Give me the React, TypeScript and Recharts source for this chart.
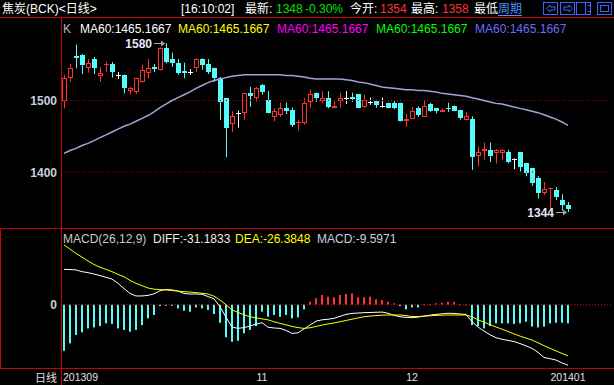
import React from 'react';
import { ComposedChart, Bar, Line, XAxis, YAxis, ReferenceLine, ReferenceDot } from 'recharts';

// ---- data ----
const opens = [
  1500, 1531, 1562, 1564, 1545, 1558, 1534, 1549, 1551, 1536,
  1536, 1514, 1512, 1526, 1539, 1547, 1543, 1573, 1558, 1553,
  1541, 1540, 1546, 1558, 1551, 1546, 1532, 1503, 1467, 1483,
  1482, 1510, 1503, 1522, 1501, 1477, 1480, 1490, 1487, 1468,
  1468, 1498, 1511, 1500, 1503, 1489, 1500, 1504, 1505, 1509,
  1491, 1498, 1499, 1492, 1497, 1497, 1497, 1472, 1474, 1489,
  1477, 1495, 1489, 1484, 1490, 1492, 1487, 1473, 1474, 1423,
  1430, 1431, 1427, 1427, 1428, 1418, 1428, 1413, 1405, 1392,
  1371, 1377, 1375, 1361, 1354,
];
const highs = [
  1536, 1551, 1578, 1565, 1558, 1561, 1547, 1554, 1554, 1540,
  1536, 1519, 1532, 1550, 1558, 1551, 1574, 1580, 1567, 1558,
  1553, 1544, 1559, 1559, 1558, 1546, 1533, 1503, 1485, 1486,
  1511, 1519, 1519, 1523, 1513, 1489, 1497, 1497, 1490, 1473,
  1503, 1515, 1511, 1513, 1513, 1499, 1511, 1513, 1511, 1509,
  1508, 1504, 1501, 1504, 1497, 1500, 1497, 1481, 1491, 1492,
  1501, 1497, 1489, 1489, 1497, 1493, 1487, 1484, 1478, 1436,
  1441, 1441, 1432, 1432, 1431, 1419, 1428, 1413, 1405, 1394,
  1386, 1378, 1379, 1369, 1358,
];
const lows = [
  1489, 1526, 1545, 1537, 1539, 1537, 1526, 1540, 1532, 1530,
  1510, 1508, 1509, 1525, 1531, 1540, 1542, 1552, 1547, 1536,
  1531, 1536, 1540, 1543, 1537, 1526, 1473, 1421, 1456, 1462,
  1473, 1491, 1498, 1508, 1482, 1471, 1477, 1481, 1463, 1458,
  1466, 1489, 1498, 1496, 1489, 1489, 1490, 1495, 1498, 1490,
  1490, 1494, 1490, 1490, 1489, 1488, 1471, 1463, 1474, 1477,
  1477, 1484, 1482, 1484, 1484, 1485, 1473, 1472, 1403, 1408,
  1417, 1414, 1412, 1417, 1412, 1404, 1400, 1394, 1381, 1363,
  1368, 1349, 1361, 1346, 1344,
];
const closes = [
  1531, 1546, 1559, 1549, 1553, 1545, 1539, 1551, 1540, 1536,
  1517, 1517, 1531, 1543, 1546, 1544, 1573, 1554, 1552, 1539,
  1539, 1540, 1558, 1549, 1540, 1531, 1498, 1462, 1478, 1483,
  1510, 1507, 1518, 1512, 1482, 1485, 1490, 1486, 1466, 1470,
  1496, 1509, 1503, 1504, 1491, 1492, 1503, 1504, 1502, 1490,
  1501, 1498, 1494, 1492, 1490, 1490, 1471, 1474, 1485, 1480,
  1492, 1485, 1486, 1487, 1488, 1486, 1476, 1478, 1421, 1428,
  1432, 1423, 1431, 1431, 1414, 1418, 1407, 1399, 1385, 1371,
  1376, 1378, 1365, 1354, 1348,
];
const ma60 = [
  1426, 1430, 1433, 1437, 1440, 1444, 1448, 1452, 1456, 1460,
  1464, 1467, 1471, 1475, 1479, 1484, 1490, 1495, 1500, 1504,
  1508, 1512, 1517, 1521, 1525, 1528, 1530, 1532, 1534, 1535,
  1536, 1536, 1536, 1536, 1536, 1536, 1536, 1535, 1535, 1534,
  1533, 1531, 1530, 1530, 1530, 1530, 1530, 1529, 1528, 1526,
  1525, 1523, 1521, 1519, 1518, 1517, 1516, 1515, 1515, 1514,
  1514, 1513, 1512, 1510, 1509, 1508, 1507, 1506, 1504, 1502,
  1500, 1498, 1496, 1495, 1493, 1491, 1489, 1487, 1485, 1483,
  1480, 1477, 1474, 1470, 1465.1667,
];
const diffs = [
  18.2, 18.1, 17.9, 17.0, 16.5, 15.8, 15.0, 14.1, 13.2, 11.0,
  8.3, 5.8, 4.5, 4.5, 4.8, 5.6, 7.2, 7.9, 7.6, 7.0,
  5.8, 5.5, 5.5, 5.4, 4.2, 3.0, -1.0, -6.5, -11.5, -12.2,
  -11.8, -11.0, -10.0, -9.3, -11.6, -12.0, -12.2, -13.2, -14.8, -14.5,
  -12.5, -10.5, -8.5, -7.8, -7.5, -7.0, -6.0, -5.0, -4.5, -4.3,
  -4.1, -4.0, -3.9, -3.8, -4.4, -5.5, -6.2, -6.5, -6.7, -6.4,
  -5.9, -5.4, -5.0, -4.7, -4.4, -4.5, -4.8, -5.0, -8.8, -11.5,
  -13.6, -15.5, -17.0, -17.8, -18.4, -19.0, -20.0, -21.2, -22.5, -24.5,
  -27.2, -27.8, -28.5, -30.0, -31.1833,
];
const deas = [
  30.8, 28.6, 26.4, 24.5, 22.5, 20.7, 19.3, 18.2, 17.0, 15.6,
  14.4, 12.5, 11.0, 9.8, 8.6, 8.0, 7.8, 7.6, 7.3, 7.0,
  6.7, 6.5, 6.2, 5.9, 5.5, 4.4, 2.4, 0.0, -2.7, -4.0,
  -5.2, -6.2, -6.8, -7.3, -7.8, -8.8, -9.6, -10.4, -11.2, -11.8,
  -12.2, -11.9, -11.2, -10.5, -9.9, -9.4, -8.8, -8.1, -7.5, -6.8,
  -6.2, -5.9, -5.6, -5.4, -5.3, -5.3, -5.3, -5.6, -6.1, -6.1,
  -5.9, -5.7, -5.5, -5.4, -5.3, -5.3, -5.3, -5.3, -6.2, -7.8,
  -9.0, -10.3, -11.5, -12.6, -13.8, -15.0, -16.2, -17.2, -18.2, -19.6,
  -21.1, -22.5, -23.8, -25.1, -26.3848,
];
const macdBars = [
  -23.7, -19.9, -15.6, -14.2, -12.2, -11.7, -11.0, -9.6, -9.9, -12.2,
  -13.0, -13.9, -13.0, -10.5, -7.0, -5.3, -0.7, -0.4, -0.2, -1.9,
  -3.1, -3.6, -1.4, -1.9, -2.7, -4.8, -9.3, -16.8, -19.1, -18.6,
  -14.7, -13.0, -11.0, -3.6, -6.2, -5.3, -6.2, -5.3, -7.0, -6.5,
  -2.4, 1.5, 3.3, 5.0, 4.1, 3.8, 5.0, 5.5, 5.9, 3.8,
  3.8, 4.1, 2.8, 2.4, 1.5, 0.7, -0.7, -2.4, -1.4, -1.4,
  0.2, 0.3, 0.7, 1.0, 1.5, 1.5, 0.2, 0.1, -10.5, -11.0,
  -12.2, -11.0, -9.6, -9.6, -9.6, -9.9, -9.6, -8.8, -11.3, -11.7,
  -11.3, -9.6, -9.3, -9.3, -9.5971,
];
const xTickIndex = [0, 33, 58, 84];
const xTickLabels = ['201309', '11', '12', '201401'];
const priceTicks = [1400, 1500];
const macdTicks = [0];
const maLegendColors = ['#ffffff', '#ffff00', '#ff00ff', '#00ff00', '#6a6aff'];
const maLegendText = 'MA60:1465.1667';

// ---- layout / style ----
const EMPTY_SLOTS = 7;
const PRICE_DOMAIN: [number, number] = [1321.7, 1615.4];
const MACD_DOMAIN: [number, number] = [-32.6, 38.98];
const UP = '#ff3232';
const DOWN = '#54fcfc';
const BORDER = '#c80000';
const LAT = "'Liberation Sans', Arial, sans-serif";
const MIX = "'Liberation Sans', 'Noto Sans CJK SC', sans-serif";

const rows = Array.from({ length: opens.length + EMPTY_SLOTS }, (_, i) => {
  if (i >= opens.length) return { idx: i } as any;
  return {
    idx: i,
    open: opens[i],
    high: highs[i],
    low: lows[i],
    close: closes[i],
    range: [lows[i], highs[i]],
    ma: ma60[i],
    diff: diffs[i],
    dea: deas[i],
    macd: macdBars[i],
  };
});

const last = opens.length - 1;
const hiIdx = highs.indexOf(Math.max(...highs));
const loIdx = lows.lastIndexOf(Math.min(...lows));

function Candle(props: any) {
  const { x, y, width, height, index } = props;
  const d = props.payload && props.payload.open != null ? props.payload : rows[index];
  if (!d || d.open == null) return null;
  const { open, close, high, low } = d;
  const top = Math.min(y, y + height);
  const h = Math.abs(height);
  const span = high - low || 1;
  const toY = (v: number) => top + ((high - v) / span) * h;
  const cx = Math.round(x + width / 2);
  const wx = cx + 0.5;
  const yH = toY(high);
  const yL = toY(low);
  if (open === close) {
    const yy = Math.round(toY(open)) + 0.5;
    return (
      <g>
        <line x1={wx} x2={wx} y1={yH} y2={yL} stroke="#ffffff" strokeWidth={1} />
        <line x1={cx - 2} x2={cx + 3} y1={yy} y2={yy} stroke="#ffffff" strokeWidth={1} />
      </g>
    );
  }
  if (close > open) {
    const bt = Math.round(toY(close));
    const bb = Math.round(toY(open));
    const bh = bb - bt - 1;
    return (
      <g>
        <line x1={wx} x2={wx} y1={yH} y2={bt} stroke={UP} strokeWidth={1} />
        <line x1={wx} x2={wx} y1={bb} y2={yL} stroke={UP} strokeWidth={1} />
        {bh > 0 ? (
          <rect x={cx - 1.5} y={bt + 0.5} width={4} height={bh} fill="none" stroke={UP} strokeWidth={1} />
        ) : (
          <line x1={cx - 2} x2={cx + 3} y1={bt + 0.5} y2={bt + 0.5} stroke={UP} strokeWidth={1} />
        )}
      </g>
    );
  }
  const bt = Math.round(toY(open));
  const bb = Math.round(toY(close));
  return (
    <g>
      <line x1={wx} x2={wx} y1={yH} y2={yL} stroke={DOWN} strokeWidth={1} />
      <rect x={cx - 2} y={bt} width={5} height={Math.max(1, bb - bt)} fill={DOWN} />
    </g>
  );
}

function MacdBar(props: any) {
  const { x, y, width, height, index } = props;
  const d = rows[index];
  if (!d || d.macd == null) return null;
  const cx = Math.round(x + width / 2);
  const top = Math.min(y, y + height);
  const h = Math.max(Math.abs(height), 1);
  return <rect x={cx - 1} y={top} width={2} height={h} fill={d.macd >= 0 ? UP : DOWN} />;
}

function ExtremeMark(props: any, label: string) {
  const { cx, cy } = props;
  if (cx == null || cy == null) return <g />;
  const ay = Math.round(cy) + 0.5;
  return (
    <g>
      <line x1={cx - 12} x2={cx - 2} y1={ay} y2={ay} stroke="#a8a8a8" strokeWidth={1} />
      <path d={`M${cx - 1} ${ay} L${cx - 5} ${ay - 3} L${cx - 5} ${ay + 3} Z`} fill="#a8a8a8" />
      <text x={cx - 14} y={ay + 4.5} textAnchor="end" fill="#e4e6f2" fontFamily={LAT} fontWeight="bold" fontSize={12}>
        {label}
      </text>
    </g>
  );
}

const PriceTick = (p: any) => (
  <text x={57} y={p.y + 4.5} textAnchor="end" fill="#c8cede" fontFamily={LAT} fontWeight="bold" fontSize={12}>
    {p.payload.value}
  </text>
);

const MacdTick = (p: any) => (
  <text x={57} y={p.y + 4.5} textAnchor="end" fill="#c8cede" fontFamily={LAT} fontWeight="bold" fontSize={12}>
    {p.payload.value}
  </text>
);

const XTick = (p: any) => {
  const i = xTickIndex.indexOf(p.payload.value);
  if (i < 0) return <g />;
  const first = i === 0;
  return (
    <text x={first ? p.x - 1 : p.x} y={152} textAnchor={first ? 'start' : 'middle'} fill="#e0e0e0" fontFamily={LAT} fontSize={10.5}>
      {xTickLabels[i]}
    </text>
  );
};

function Overlay() {
  const maX = [80, 178, 277, 376, 475];
  return (
    <svg width={614} height={385} style={{ position: 'absolute', left: 0, top: 0, pointerEvents: 'none' }}>
      {/* header */}
      <text x={2} y={13} fill="#ffffff" fontSize={12} fontFamily={MIX}>{'焦炭(BCK)<日线>'}</text>
      <text x={181} y={13} fill="#ffffff" fontSize={12} fontFamily={MIX}>[16:10:02]</text>
      <text x={245} y={13} fill="#ffffff" fontSize={12} fontFamily={MIX}>最新:</text>
      <text x={276} y={13} fill="#00e000" fontSize={12} fontFamily={MIX}>{closes[last]}</text>
      <text x={305} y={13} fill="#00e000" fontSize={12} fontFamily={MIX}>-0.30%</text>
      <text x={350} y={13} fill="#ffffff" fontSize={12} fontFamily={MIX}>今开:</text>
      <text x={380} y={13} fill={UP} fontSize={12} fontFamily={MIX}>{opens[last]}</text>
      <text x={411} y={13} fill="#ffffff" fontSize={12} fontFamily={MIX}>最高:</text>
      <text x={442} y={13} fill={UP} fontSize={12} fontFamily={MIX}>{highs[last]}</text>
      <text x={474} y={13} fill="#ffffff" fontSize={12} fontFamily={MIX}>最低</text>
      <text x={498} y={13} fill="#4f8fff" fontSize={12} fontFamily={MIX}>周期</text>
      <line x1={498} x2={522} y1={15.5} y2={15.5} stroke="#4f8fff" strokeWidth={1} />
      <g stroke="#3c64ff" fill="none" strokeWidth={1}>
        <rect x={543.5} y={2.5} width={14} height={12} />
        <path d="M546.5 8.5 L550 5 L550 7 L555 7 L555 10 L550 10 L550 12 Z" />
        <rect x={560.5} y={2.5} width={14} height={12} />
        <path d="M572.5 8.5 L569 5 L569 7 L564 7 L564 10 L569 10 L569 12 Z" />
        <rect x={576.5} y={2.5} width={14} height={12} />
        <line x1={585.5} y1={2.5} x2={585.5} y2={14.5} />
        <line x1={587.5} y1={5.5} x2={590.5} y2={5.5} />
        <line x1={587.5} y1={11.5} x2={590.5} y2={11.5} />
        <rect x={597.5} y={2.5} width={14} height={12} />
        <rect x={600.5} y={5.5} width={8} height={6} />
      </g>

      {/* borders */}
      <g stroke={BORDER} strokeWidth={1}>
        <line x1={0} x2={614} y1={17.5} y2={17.5} />
        <line x1={61.5} x2={61.5} y1={17.5} y2={385} />
        <line x1={0} x2={614} y1={228.5} y2={228.5} />
        <line x1={0} x2={614} y1={368.5} y2={368.5} />
        <line x1={0.5} x2={0.5} y1={228.5} y2={368.5} />
      </g>

      {/* price legend */}
      <text x={63} y={33} fill="#b8b8b8" fontSize={12} fontFamily={LAT}>K</text>
      {maLegendColors.map((c, i) => (
        <text key={i} x={maX[i]} y={33} fill={c} fontSize={12} fontFamily={LAT}>{maLegendText}</text>
      ))}

      {/* macd legend */}
      <text x={63} y={242.5} fill="#c8c8c8" fontSize={12} fontFamily={LAT}>MACD(26,12,9)</text>
      <text x={153} y={242.5} fill="#ececec" fontSize={12} fontFamily={LAT}>{`DIFF:${diffs[last].toFixed(4)}`}</text>
      <text x={235} y={242.5} fill="#ffff00" fontSize={12} fontFamily={LAT}>{`DEA:${deas[last].toFixed(4)}`}</text>
      <text x={317} y={242.5} fill="#c8d0e0" fontSize={12} fontFamily={LAT}>{`MACD:${macdBars[last].toFixed(4)}`}</text>

      {/* period label */}
      <text x={57} y={382} textAnchor="end" fill="#e0e0e0" fontSize={11} fontFamily={MIX}>日线</text>
    </svg>
  );
}

export default function App() {
  return (
    <div style={{ position: 'absolute', left: 0, top: 0, width: 614, height: 385, background: '#000', overflow: 'hidden' }}>
      <div style={{ position: 'absolute', left: 0, top: 18 }}>
        <ComposedChart width={614} height={210} data={rows} margin={{ top: 0, right: 1, bottom: 0, left: 0 }} barCategoryGap={0} barGap={0}>
          <XAxis dataKey="idx" hide />
          <YAxis
            type="number"
            width={61}
            domain={PRICE_DOMAIN}
            allowDataOverflow
            ticks={priceTicks}
            interval={0}
            axisLine={false}
            tickLine={false}
            tick={PriceTick}
          />
          <ReferenceLine y={1500} stroke="#a00000" strokeDasharray="1 2" />
          <ReferenceLine y={1400} stroke="#a00000" strokeDasharray="1 2" />
          <Bar dataKey="range" shape={Candle} isAnimationActive={false} />
          <Line dataKey="ma" stroke="#9ea4d8" strokeWidth={1.5} dot={false} activeDot={false} isAnimationActive={false} />
          <ReferenceDot x={hiIdx} y={highs[hiIdx]} r={0} shape={(p: any) => ExtremeMark(p, String(highs[hiIdx]))} />
          <ReferenceDot x={loIdx} y={lows[loIdx]} r={0} shape={(p: any) => ExtremeMark(p, String(lows[loIdx]))} />
        </ComposedChart>
      </div>
      <div style={{ position: 'absolute', left: 0, top: 229 }}>
        <ComposedChart width={614} height={156} data={rows} margin={{ top: 0, right: 1, bottom: 0, left: 0 }} barCategoryGap={0} barGap={0}>
          <XAxis dataKey="idx" ticks={xTickIndex} interval={0} height={17} axisLine={false} tickLine={false} tick={XTick} />
          <YAxis
            type="number"
            width={61}
            domain={MACD_DOMAIN}
            allowDataOverflow
            ticks={macdTicks}
            interval={0}
            axisLine={false}
            tickLine={false}
            tick={MacdTick}
          />
          <ReferenceLine y={0} stroke="#e00000" strokeDasharray="1 2" />
          <Bar dataKey="macd" shape={MacdBar} isAnimationActive={false} />
          <Line dataKey="diff" stroke="#ffffff" strokeWidth={1} dot={false} activeDot={false} isAnimationActive={false} />
          <Line dataKey="dea" stroke="#ffff00" strokeWidth={1} dot={false} activeDot={false} isAnimationActive={false} />
        </ComposedChart>
      </div>
      <Overlay />
    </div>
  );
}
